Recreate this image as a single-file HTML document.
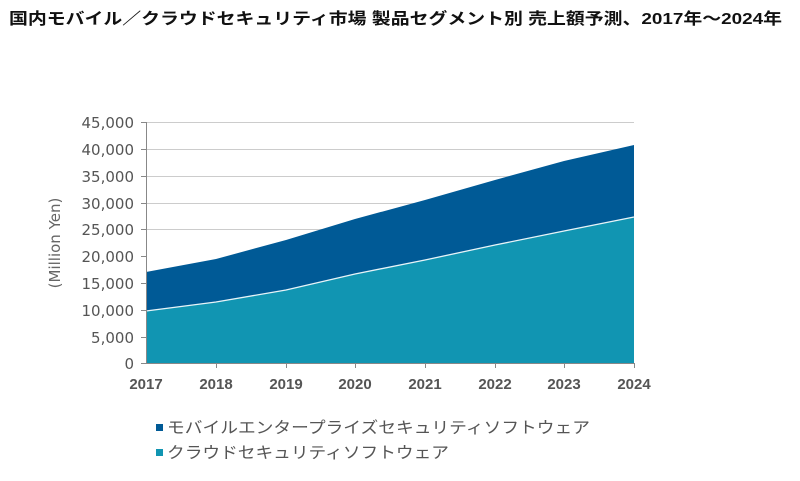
<!DOCTYPE html><html><head><meta charset="utf-8"><style>
body{margin:0;background:#fff;width:800px;height:476px;overflow:hidden;font-family:"Liberation Sans","Noto Sans CJK JP",sans-serif}
</style></head><body>
<svg width="800" height="476" xmlns="http://www.w3.org/2000/svg" font-family="Liberation Sans, Noto Sans CJK JP, sans-serif">
<text x="9" y="24" font-size="16" font-weight="bold" fill="#111" textLength="773" lengthAdjust="spacingAndGlyphs">国内モバイル／クラウドセキュリティ市場 製品セグメント別 売上額予測、2017年～2024年</text>
<g stroke="#ccc" stroke-width="1">
<line x1="146" y1="122.5" x2="634" y2="122.5"/><line x1="146" y1="149.5" x2="634" y2="149.5"/><line x1="146" y1="176.5" x2="634" y2="176.5"/><line x1="146" y1="203.5" x2="634" y2="203.5"/><line x1="146" y1="229.5" x2="634" y2="229.5"/>
</g>
<path d="M146,272 L216,259 L286,240 L355,219 L425,200 L495,180 L564,161 L634,145 L634,363 L146,363Z" fill="#005a96"/>
<path d="M146,311 L216,302 L286,290 L355,274 L425,260 L495,245 L564,231 L634,217 L634,363 L146,363Z" fill="#1195b2"/>
<path d="M146,311 L216,302 L286,290 L355,274 L425,260 L495,245 L564,231 L634,217" fill="none" stroke="#e8f4f8" stroke-width="1.3"/>
<g stroke="#888"><line x1="146.5" y1="122" x2="146.5" y2="364"/><line x1="146" y1="363.5" x2="634" y2="363.5"/>
<line x1="141" y1="122.5" x2="146" y2="122.5"/><line x1="141" y1="149.5" x2="146" y2="149.5"/><line x1="141" y1="176.5" x2="146" y2="176.5"/><line x1="141" y1="203.5" x2="146" y2="203.5"/><line x1="141" y1="229.5" x2="146" y2="229.5"/><line x1="141" y1="256.5" x2="146" y2="256.5"/><line x1="141" y1="283.5" x2="146" y2="283.5"/><line x1="141" y1="310.5" x2="146" y2="310.5"/><line x1="141" y1="337.5" x2="146" y2="337.5"/><line x1="141" y1="363.5" x2="146" y2="363.5"/>
<line x1="216.5" y1="363" x2="216.5" y2="368"/><line x1="286.5" y1="363" x2="286.5" y2="368"/><line x1="355.5" y1="363" x2="355.5" y2="368"/><line x1="425.5" y1="363" x2="425.5" y2="368"/><line x1="495.5" y1="363" x2="495.5" y2="368"/><line x1="564.5" y1="363" x2="564.5" y2="368"/><line x1="634.5" y1="363" x2="634.5" y2="368"/></g>
<g font-size="15" fill="#555" text-anchor="end" font-family="DejaVu Sans, sans-serif">
<text x="134" y="128">45,000</text><text x="134" y="155">40,000</text><text x="134" y="182">35,000</text><text x="134" y="209">30,000</text><text x="134" y="235">25,000</text><text x="134" y="262">20,000</text><text x="134" y="289">15,000</text><text x="134" y="316">10,000</text><text x="134" y="343">5,000</text><text x="134" y="369">0</text></g>
<g font-size="15" fill="#555" text-anchor="middle" font-weight="bold">
<text x="146" y="389">2017</text><text x="216" y="389">2018</text><text x="286" y="389">2019</text><text x="355" y="389">2020</text><text x="425" y="389">2021</text><text x="495" y="389">2022</text><text x="564" y="389">2023</text><text x="634" y="389">2024</text></g>
<text transform="translate(60,243) rotate(-90)" font-size="15" fill="#666" text-anchor="middle" font-family="DejaVu Sans, sans-serif">(Million Yen)</text>
<rect x="156" y="424" width="7" height="7" fill="#005a96"/>
<text x="167" y="433" font-size="16" fill="#555" textLength="423" lengthAdjust="spacingAndGlyphs">モバイルエンタープライズセキュリティソフトウェア</text>
<rect x="156" y="449" width="7" height="7" fill="#1195b2"/>
<text x="167" y="458" font-size="16" fill="#555" textLength="282" lengthAdjust="spacingAndGlyphs">クラウドセキュリティソフトウェア</text>
</svg>
</body></html>
